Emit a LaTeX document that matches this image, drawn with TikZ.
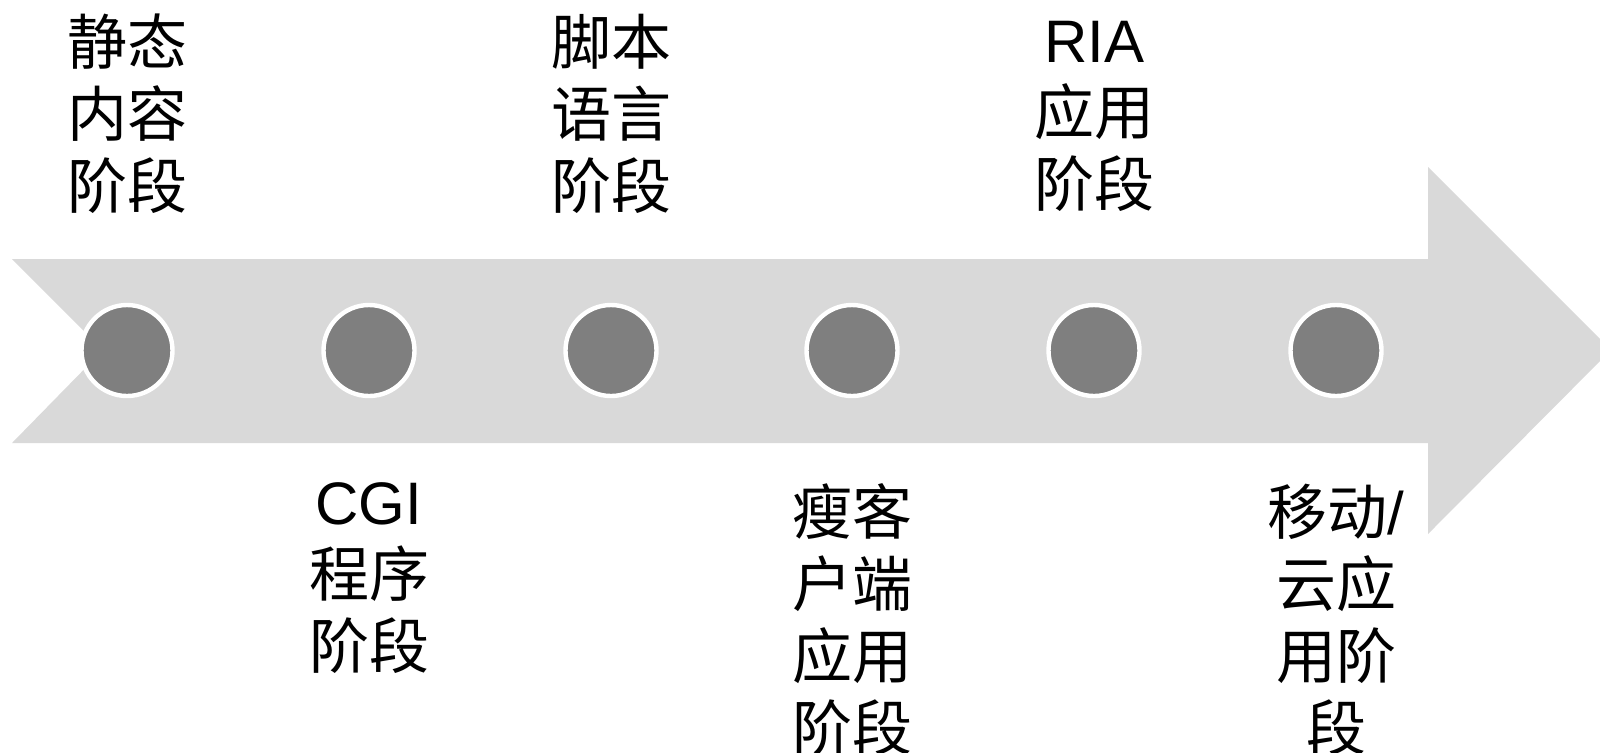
\documentclass[tikz,border=0pt]{standalone}
\usepackage{fontspec}
\setmainfont{Liberation Sans}
\newfontfamily\cjk{Noto Sans CJK SC}
\definecolor{arrowgray}{HTML}{D9D9D9}
\definecolor{dotgray}{HTML}{7F7F7F}
\begin{document}
\begin{tikzpicture}[x=0.5pt,y=-0.5pt,
  dot/.style={circle,fill=dotgray,draw=white,line width=2.2pt,minimum size=45.5pt,inner sep=0pt},
  lbl/.style={align=center,font=\fontsize{30pt}{36pt}\selectfont,inner sep=0pt}]
\useasboundingbox (0,0) rectangle (1600,752);
\clip (0,0) rectangle (1600,752);
\fill[arrowgray] (12,259) -- (1428,259) -- (1428,167) -- (1611,350) -- (1428,534) -- (1428,443) -- (12,443) -- (103,350) -- cycle;
\foreach \i/\x in {1/127,2/369,3/611,4/852,5/1094,6/1336}
  \node[dot] (d\i) at (\x,350.5) {};
\node[lbl] (t1) at (127,114) {\cjk 静态\\\cjk 内容\\\cjk 阶段};
\node[lbl] (t3) at (611,114) {\cjk 脚本\\\cjk 语言\\\cjk 阶段};
\node[lbl] (t5) at (1094,116) {RIA\\\cjk 应用\\\cjk 阶段};
\node[lbl] (b2) at (369,578) {CGI\\\cjk 程序\\\cjk 阶段};
\node[lbl] (b4) at (852,620) {\cjk 瘦客\\\cjk 户端\\\cjk 应用\\\cjk 阶段};
\node[lbl] (b6) at (1336,620) {{\cjk 移动}/\\\cjk 云应\\\cjk 用阶\\\cjk 段};
\end{tikzpicture}
\end{document}
